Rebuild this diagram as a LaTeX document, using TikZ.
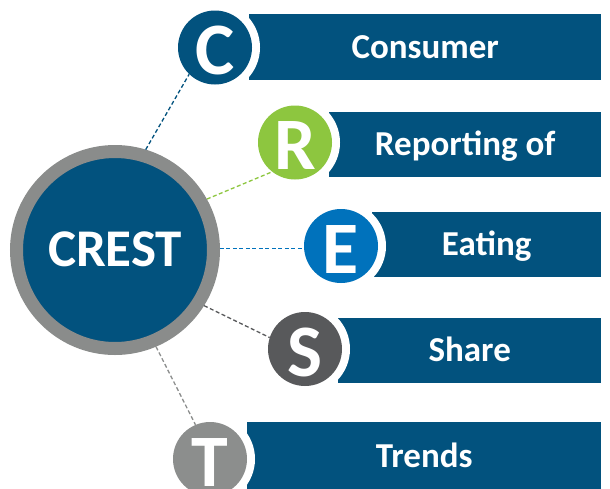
\documentclass[tikz,border=0pt]{standalone}
\usepackage{fontspec}
\setmainfont{Carlito}
\definecolor{barblue}{RGB}{2,82,126}
\definecolor{rgreen}{RGB}{141,198,63}
\definecolor{eblue}{RGB}{0,114,188}
\definecolor{sgray}{RGB}{88,89,91}
\definecolor{tgray}{RGB}{140,142,141}
\definecolor{ringgray}{RGB}{138,140,139}
\begin{document}
\begin{tikzpicture}[x=1pt,y=-1pt,
  bar/.style={fill=barblue, draw=none, anchor=west, inner sep=0pt, text=white,
    font=\bfseries\fontsize{35}{40}\selectfont, text height=22pt, text depth=0pt},
  cutout/.style={circle, fill=white, minimum size=90pt, inner sep=0pt},
  letter/.style={circle, minimum size=74pt, inner sep=0pt, text=white,
    font=\bfseries\fontsize{74}{80}\selectfont, text height=54pt, text depth=0pt},
  link/.style={line width=1.3pt, dash pattern=on 4pt off 2.5pt}]
\useasboundingbox (0,0) rectangle (610,488);
% bars
\node[bar, minimum width=352pt, minimum height=66pt] (barC) at (249,47) {Consumer};
\node[bar, minimum width=272pt, minimum height=65pt] (barR) at (329,144.5) {Reporting of};
\node[bar, minimum width=229pt, minimum height=65pt] (barE) at (372,244.5) {Eating};
\node[bar, minimum width=263pt, minimum height=65pt] (barS) at (338,350.5) {Share};
\node[bar, minimum width=354pt, minimum height=68pt] (barT) at (247,456) {Trends};
% white cut-outs
\node[cutout] (cutC) at (215,47.5) {};
\node[cutout] (cutR) at (295,142.5) {};
\node[cutout] (cutE) at (341,246) {};
\node[cutout] (cutS) at (305,349) {};
\node[cutout] (cutT) at (210,459) {};
% letter disks
\node[letter, fill=barblue] (C) at (215,47.5) {C};
\node[letter, fill=rgreen] (R) at (295,142.5) {R};
\node[letter, fill=eblue] (E) at (341,246) {E};
\node[letter, fill=sgray] (S) at (305,349) {S};
\node[letter, fill=tgray] (T) at (210,459) {T};
% central circle
\node[circle, fill=barblue, draw=ringgray, line width=13pt, minimum size=197pt, inner sep=0pt,
  text=white, font=\bfseries\fontsize{53}{60}\selectfont, text height=33pt, text depth=0pt]
  (crest) at (115,250) {CREST};
% connectors
\draw[link, draw=barblue] (crest.73.6) -- (C.226);
\draw[link, draw=rgreen] (crest.29.5) -- (R.232.5);
\draw[link, draw=eblue] (crest.1) -- (crest.1 -| E.west);
\draw[link, draw=sgray] (crest.-32) -- (S.162);
\draw[link, draw=tgray] (crest.-67.6) -- (T.113.5);
\end{tikzpicture}
\end{document}
